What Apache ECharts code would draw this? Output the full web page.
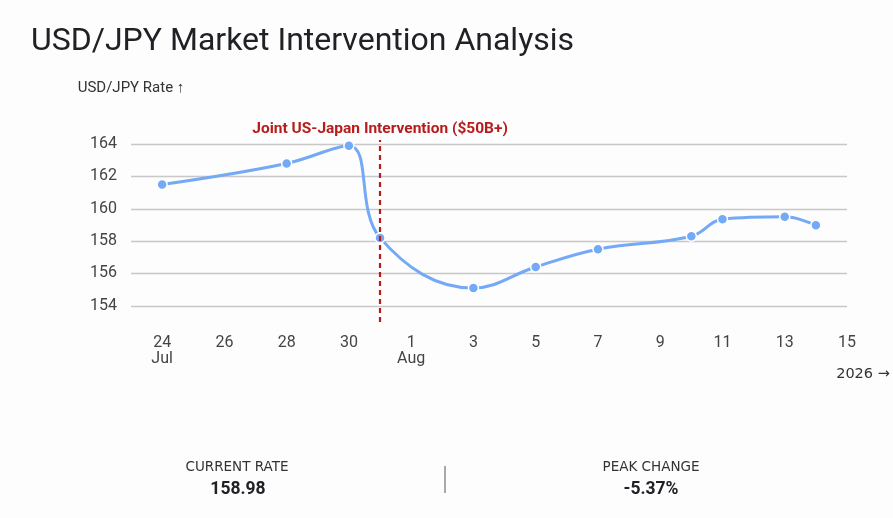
<!DOCTYPE html>
<html>
<head>
<meta charset="utf-8">
<script src="https://cdn.jsdelivr.net/npm/echarts@6/dist/echarts.min.js"></script>
<style>
html,body{margin:0;padding:0;background:#fdfdfd;}
#chart{width:893px;height:518px;}
</style>
</head>
<body>
<div id="chart"></div>
<script>
// ---- data ----
const dates = ['2026-07-24','2026-07-28','2026-07-30','2026-07-31','2026-08-03','2026-08-05','2026-08-07','2026-08-10','2026-08-11','2026-08-13','2026-08-14'];
const rates = [161.5, 162.8, 163.9, 158.2, 155.1, 156.4, 157.5, 158.3, 159.35, 159.5, 158.98];
const yTickLabels = [154, 156, 158, 160, 162, 164];
const interventionDate = '2026-07-31';
const interventionLabel = 'Joint US-Japan Intervention ($50B+)';
const xStart = '2026-07-23', xEnd = '2026-08-15', labelAnchor = '2026-07-24';
const months = ['Jan','Feb','Mar','Apr','May','Jun','Jul','Aug','Sep','Oct','Nov','Dec'];

const DAY = 86400000;
const toDay = s => Date.parse(s + 'T00:00:00Z') / DAY;
const seriesData = dates.map((d, i) => [toDay(d), rates[i]]);
const anchor = toDay(labelAnchor);

const current = rates[rates.length - 1];
const peak = Math.max(...rates);
const peakIdx = rates.indexOf(peak);
const troughAfter = Math.min(...rates.slice(peakIdx));
const peakChange = (troughAfter - peak) / peak * 100;

const chart = echarts.init(document.getElementById('chart'));
const FONT = 'Roboto, "Noto Sans", sans-serif';
chart.setOption({
  backgroundColor: '#fdfdfd',
  animation: false,
  textStyle: { fontFamily: FONT },
  title: {
    text: 'USD/JPY Market Intervention Analysis',
    left: 26, top: 21,
    textStyle: { fontSize: 32, fontWeight: 'normal', color: '#202124', fontFamily: FONT }
  },
  grid: { left: 131, right: 46, top: 140, bottom: 196 },
  xAxis: {
    type: 'value',
    min: toDay(xStart), max: toDay(xEnd), interval: 1,
    axisLine: { show: false }, axisTick: { show: false }, splitLine: { show: false },
    axisLabel: {
      margin: 13, fontSize: 16, color: '#444', lineHeight: 16,
      showMinLabel: true, showMaxLabel: true,
      formatter: v => {
        if ((v - anchor) % 2 !== 0) return '';
        const d = new Date(v * DAY);
        const day = d.getUTCDate();
        if (v === anchor || day === 1) return day + '\n' + months[d.getUTCMonth()];
        return String(day);
      }
    }
  },
  yAxis: {
    type: 'value',
    min: 153, max: 164.25, interval: 1,
    name: 'USD/JPY Rate \u2191',
    nameLocation: 'end', nameGap: 52,
    nameTextStyle: { fontSize: 15, color: '#333', align: 'center', verticalAlign: 'middle' },
    axisLine: { show: false }, axisTick: { show: false },
    axisLabel: {
      margin: 14, fontSize: 16, color: '#444',
      formatter: v => yTickLabels.indexOf(v) >= 0 ? String(v) : ''
    },
    splitLine: { lineStyle: { color: ['transparent', '#c8c8c8'], width: 1.3 } }
  },
  series: [{
    type: 'line',
    data: seriesData,
    smooth: 0.4,
    symbol: 'circle', symbolSize: 10,
    lineStyle: { color: '#74a9f6', width: 3 },
    itemStyle: { color: '#74a9f6', borderColor: '#ffffff', borderWidth: 1.5 },
    markLine: {
      silent: true, symbol: 'none',
      lineStyle: { color: '#b71c1c', type: [5, 4], width: 2.2 },
      label: {
        show: true, position: 'end', formatter: interventionLabel,
        color: '#b71c1c', fontWeight: 'bold', fontSize: 15.5, distance: 3
      },
      data: [[
        { coord: [toDay(interventionDate), 153] },
        { coord: [toDay(interventionDate), 164.25] }
      ]]
    }
  }],
  graphic: [
    { type: 'text', x: 863, y: 374, style: { text: '2026 \u2192', fontSize: 14.5, fill: '#333', align: 'center', verticalAlign: 'middle', fontFamily: '"DejaVu Sans", sans-serif' } },
    { type: 'text', x: 237, y: 467, style: { text: 'CURRENT RATE', fontSize: 13.5, fill: '#333', align: 'center', verticalAlign: 'middle', fontFamily: '"DejaVu Sans", sans-serif' } },
    { type: 'text', x: 238, y: 490, style: { text: current.toFixed(2), fontSize: 17.5, fontWeight: 'bold', fill: '#202124', align: 'center', verticalAlign: 'middle', fontFamily: FONT } },
    { type: 'line', shape: { x1: 445, y1: 466, x2: 445, y2: 493 }, style: { stroke: '#555', lineWidth: 1 } },
    { type: 'text', x: 651, y: 467, style: { text: 'PEAK CHANGE', fontSize: 13.5, fill: '#333', align: 'center', verticalAlign: 'middle', fontFamily: '"DejaVu Sans", sans-serif' } },
    { type: 'text', x: 651, y: 490, style: { text: peakChange.toFixed(2) + '%', fontSize: 17.5, fontWeight: 'bold', fill: '#202124', align: 'center', verticalAlign: 'middle', fontFamily: FONT } }
  ]
});
</script>
</body>
</html>
